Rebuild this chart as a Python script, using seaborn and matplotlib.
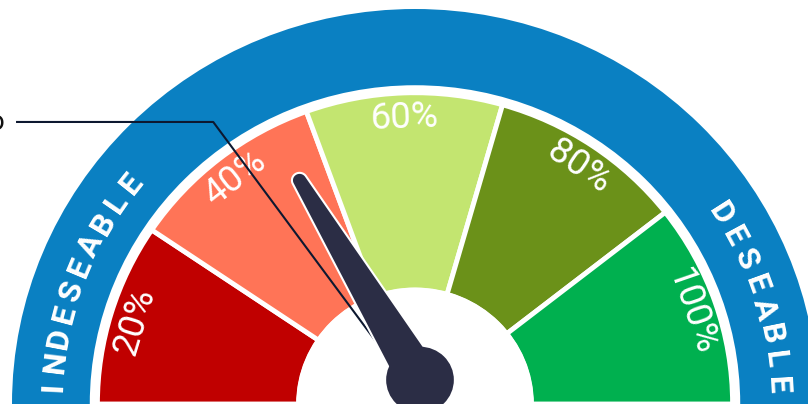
import numpy as np
import matplotlib
matplotlib.use('Agg')
import matplotlib.pyplot as plt
from matplotlib.patches import Wedge, Circle, Polygon
import seaborn as sns

# === data ===
labels = ['20%', '40%', '60%', '80%', '100%']
edges = [180, 146, 110, 74, 38, 0]          # segment limits in degrees (left -> right)
seg_colors = ['#C00000', '#FF7457', '#C3E570', '#6B9119', '#00B04F']
needle_value = 33                            # 0..100 along the dial
left_word = 'INDESEABLE'
right_word = 'DESEABLE'
pointer_label = 'Resultado'

sns.set_theme(style='white')
plt.rcParams['font.family'] = ['Roboto', 'DejaVu Sans']

blue = '#0A80C2'
navy = '#2B2D45'

fig = plt.figure(figsize=(8.08, 4.10), dpi=100)
ax = fig.add_axes([0, 5 / 410, 1, 405 / 410])
# the dial is a little wider than tall in the picture
ax.set_xlim(-415 / 403, 393 / 403)
ax.set_ylim(0, 405 / 395)
ax.axis('off')

# outer blue band
ax.add_patch(Wedge((0, 0), 1.0, 0, 180, width=0.193, facecolor=blue, edgecolor='none'))

# coloured segments
for i, lab in enumerate(labels):
    a0, a1 = edges[i + 1], edges[i]
    ax.add_patch(Wedge((0, 0), 0.788, a0, a1, width=0.5,
                       facecolor=seg_colors[i], edgecolor='white', lw=3.5))
    mid = (a0 + a1) / 2
    r = 0.728
    ax.text(r * np.cos(np.radians(mid)), r * np.sin(np.radians(mid)), lab,
            rotation=mid - 90, rotation_mode='anchor', ha='center', va='center',
            color='white', fontsize=26.5, fontweight='normal')

# white hub
ax.add_patch(Circle((0, 0), 0.295, facecolor='white', edgecolor='none', zorder=3))

# curved words in the blue band
def curved(word, start, step, r=0.9):
    for k, ch in enumerate(word):
        a = start - k * step
        ax.text(r * np.cos(np.radians(a)), r * np.sin(np.radians(a)), ch,
                rotation=a - 90, rotation_mode='anchor', ha='center', va='center',
                color='white', fontsize=23, fontweight='bold')

curved(left_word, 177, 3.95)
curved(right_word, 32.5, 4.2)

# needle
pivot = np.array([0.0124, 0.061])
ang = np.radians(180 - needle_value * 1.8)
u = np.array([np.cos(ang), np.sin(ang)])
n = np.array([-u[1], u[0]])
L, w0, w1 = 0.606, 0.055, 0.019
t = np.linspace(0, 1, 30)
left = [pivot + u * (L - w1) * s + n * (w0 + (w1 - w0) * s) for s in t]
cap = [pivot + u * (L - w1) + w1 * (np.cos(p) * n + np.sin(p) * u)
       for p in np.linspace(0, np.pi, 20)]
right = [pivot + u * (L - w1) * s - n * (w0 + (w1 - w0) * s) for s in t[::-1]]
ax.add_patch(Polygon(np.array(left + cap + right), closed=True, facecolor=navy,
                     edgecolor='white', lw=1.5, zorder=5))
ax.add_patch(Circle(pivot, 0.084, facecolor=navy, edgecolor='none', zorder=6))

# leader line to the label
end = pivot + 0.08 * np.array([np.cos(np.radians(149)), np.sin(np.radians(149))])
label_y = 0.714
bend_x = end[0] + (label_y - end[1]) / np.tan(np.radians(126))
ax.plot([-0.99, bend_x, end[0]], [label_y, label_y, end[1]], color='#0D1830', lw=1.5,
        zorder=4, solid_capstyle='butt')
ax.text(-1.017, label_y, pointer_label, ha='right', va='center', fontsize=20,
        color='#111111', clip_on=False)

plt.savefig('out.png', dpi=100)
